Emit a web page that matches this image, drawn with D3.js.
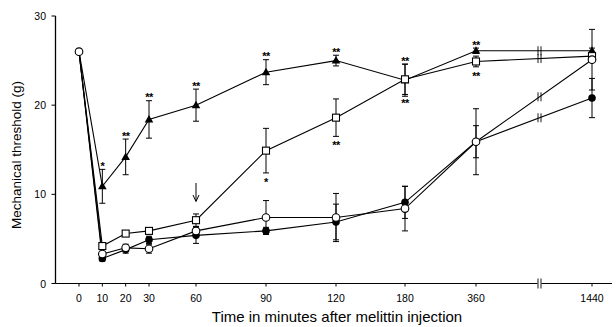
<!DOCTYPE html>
<html>
<head>
<meta charset="utf-8">
<script src="https://cdn.jsdelivr.net/npm/d3@7"></script>
<style>
  body { margin: 0; background: #fff; }
  svg { display: block; font-family: "Liberation Sans", Arial, sans-serif; }
</style>
</head>
<body>
<svg id="chart" width="616" height="327"></svg>
<script>
// Time points (minutes) and tick labels
const times = [0, 10, 20, 30, 60, 90, 120, 180, 360, 1440];
const xTickLabels = ["0", "10", "20", "30", "60", "90", "120", "180", "360", "1440"];
const yTicks = [0, 10, 20, 30];

// Means and SEMs for each group (g)
const triMean = [26, 10.9, 14.2, 18.4, 20.0, 23.7, 25.0, 22.8, 26.1, 26.1];
const triSem = [0, 1.9, 2.0, 2.1, 1.8, 1.4, 0.6, 1.8, 0.3, 0.3];
const triStars = ["", "*", "**", "**", "**", "**", "**", "**", "**", ""];

const sqMean = [26, 4.2, 5.6, 5.9, 7.1, 14.9, 18.6, 22.9, 24.9, 25.5];
const sqSem = [0, 0.3, 0.2, 0.3, 0.7, 2.5, 2.1, 1.7, 0.6, 0.3];
const sqStars = ["", "", "", "", "", "*", "**", "**", "**", ""];

const ocMean = [26, 3.3, 4.0, 3.9, 5.9, 7.4, 7.4, 8.4, 15.9, 25.1];
const ocSem = [0, 0.3, 0.4, 0.5, 0.5, 1.9, 2.7, 2.5, 3.7, 3.4];

const fcMean = [26, 2.8, 3.8, 4.9, 5.4, 5.9, 6.9, 9.1, 15.9, 20.8];
const fcSem = [0, 0.3, 0.4, 0.4, 0.9, 0.4, 2.0, 1.8, 1.8, 2.2];

const svg = d3.select("#chart");

// Non-uniform time axis: piecewise linear scale
const x = d3.scaleLinear()
  .domain([0, 30, 60, 90, 120, 180, 360, 1440])
  .range([79, 149, 196, 266, 336, 405, 476, 592]);
const breakX = 539.5;

const y = d3.scaleLinear().domain([0, 30]).range([283.5, 16]);

const axisY = y(0);
const axisX = 55.5;

// Axes
svg.append("line")
  .attr("x1", axisX).attr("x2", axisX)
  .attr("y1", y(30)).attr("y2", axisY)
  .attr("stroke", "#000").attr("stroke-width", 1.3);

svg.append("line")
  .attr("x1", axisX).attr("x2", breakX - 2)
  .attr("y1", axisY).attr("y2", axisY)
  .attr("stroke", "#000").attr("stroke-width", 1);
svg.append("line")
  .attr("x1", breakX + 2).attr("x2", 612)
  .attr("y1", axisY).attr("y2", axisY)
  .attr("stroke", "#000").attr("stroke-width", 1);
[-1.5, 1.5].forEach(dx => {
  svg.append("line")
    .attr("x1", breakX + dx).attr("x2", breakX + dx)
    .attr("y1", axisY - 5).attr("y2", axisY + 5)
    .attr("stroke", "#000").attr("stroke-width", 0.9);
});

// y ticks
svg.selectAll(".ytick").data(yTicks).enter().append("line")
  .attr("x1", axisX - 4).attr("x2", axisX)
  .attr("y1", d => y(d)).attr("y2", d => y(d))
  .attr("stroke", "#000");
svg.selectAll(".ylab").data(yTicks).enter().append("text")
  .attr("x", 46).attr("y", d => y(d) + 4)
  .attr("text-anchor", "end")
  .attr("font-size", 10.5)
  .text(d => d);

// x ticks
svg.selectAll(".xtick").data(times).enter().append("line")
  .attr("x1", d => x(d)).attr("x2", d => x(d))
  .attr("y1", axisY).attr("y2", axisY + 3)
  .attr("stroke", "#000");
svg.selectAll(".xlab").data(times).enter().append("text")
  .attr("x", d => x(d)).attr("y", 302)
  .attr("text-anchor", "middle")
  .attr("font-size", 10.5)
  .text((d, i) => xTickLabels[i]);

// Axis titles
svg.append("text")
  .attr("x", 337).attr("y", 322)
  .attr("text-anchor", "middle")
  .attr("font-size", 15)
  .text("Time in minutes after melittin injection");

svg.append("text")
  .attr("transform", "translate(21,155) rotate(-90)")
  .attr("text-anchor", "middle")
  .attr("font-size", 13.5)
  .text("Mechanical threshold (g)");

// Series
const series = [
  { mean: fcMean, sem: fcSem, shape: "fcircle" },
  { mean: triMean, sem: triSem, shape: "triangle", stars: triStars, starPos: "above" },
  { mean: sqMean, sem: sqSem, shape: "square", stars: sqStars, starPos: "below" },
  { mean: ocMean, sem: ocSem, shape: "ocircle" }
];

const lineGen = d3.line().x(d => x(d.t)).y(d => y(d.v));

// lines
series.forEach(s => {
  const pts = times.map((t, i) => ({ t, v: s.mean[i] }));
  svg.append("path")
    .datum(pts)
    .attr("d", lineGen)
    .attr("fill", "none")
    .attr("stroke", "#000")
    .attr("stroke-width", 1.1);

  // break marks on the 360 -> 1440 segment
  const n = times.length;
  const x0 = x(times[n - 2]), x1 = x(times[n - 1]);
  const y0 = y(s.mean[n - 2]), y1 = y(s.mean[n - 1]);
  const yb = y0 + (y1 - y0) * (breakX - x0) / (x1 - x0);
  [-1.5, 1.5].forEach(dx => {
    svg.append("line")
      .attr("x1", breakX + dx).attr("x2", breakX + dx)
      .attr("y1", yb - 4.5).attr("y2", yb + 4.5)
      .attr("stroke", "#000").attr("stroke-width", 0.9);
  });
});

// error bars
series.forEach(s => {
  times.forEach((t, i) => {
    if (i === 0 || s.sem[i] <= 0) return;
    const cx = x(t);
    const top = y(s.mean[i] + s.sem[i]);
    const bot = y(s.mean[i] - s.sem[i]);
    const g = svg.append("g").attr("stroke", "#000").attr("stroke-width", 1);
    g.append("line").attr("x1", cx).attr("x2", cx).attr("y1", top).attr("y2", bot);
    g.append("line").attr("x1", cx - 3).attr("x2", cx + 3).attr("y1", top).attr("y2", top);
    g.append("line").attr("x1", cx - 3).attr("x2", cx + 3).attr("y1", bot).attr("y2", bot);
  });
});

// markers
series.forEach(s => {
  times.forEach((t, i) => {
    if (i === 0 && s.shape !== "ocircle") return;
    const cx = x(t), cy = y(s.mean[i]);
    if (s.shape === "fcircle") {
      svg.append("circle").attr("cx", cx).attr("cy", cy).attr("r", 3.8)
        .attr("fill", "#000");
    } else if (s.shape === "ocircle") {
      svg.append("circle").attr("cx", cx).attr("cy", cy).attr("r", 3.8)
        .attr("fill", "#fff").attr("stroke", "#000").attr("stroke-width", 1.1);
    } else if (s.shape === "square") {
      svg.append("rect").attr("x", cx - 3.5).attr("y", cy - 3.5)
        .attr("width", 7).attr("height", 7)
        .attr("fill", "#fff").attr("stroke", "#000").attr("stroke-width", 1.1);
    } else {
      svg.append("path")
        .attr("d", `M${cx},${cy - 4.5}L${cx + 4.3},${cy + 3}L${cx - 4.3},${cy + 3}Z`)
        .attr("fill", "#000");
    }
  });
});

// significance stars
series.filter(s => s.stars).forEach(s => {
  times.forEach((t, i) => {
    const label = s.stars[i];
    if (!label) return;
    const top = y(s.mean[i] + s.sem[i]);
    const bot = y(s.mean[i] - s.sem[i]);
    const cy = s.starPos === "above" ? top - 5.5 : bot + 7;
    svg.append("text")
      .attr("x", x(t)).attr("y", cy + 6)
      .attr("text-anchor", "middle")
      .attr("font-size", 11)
      .attr("font-weight", "bold")
      .attr("letter-spacing", -0.5)
      .text(label);
  });
});

// arrow at 60 min
const ax = x(60);
svg.append("line").attr("x1", ax).attr("x2", ax).attr("y1", 183).attr("y2", 201)
  .attr("stroke", "#000").attr("stroke-width", 1);
svg.append("path")
  .attr("d", `M${ax - 3},${195}L${ax},${201.5}L${ax + 3},${195}`)
  .attr("fill", "none").attr("stroke", "#000").attr("stroke-width", 1);
</script>
</body>
</html>
